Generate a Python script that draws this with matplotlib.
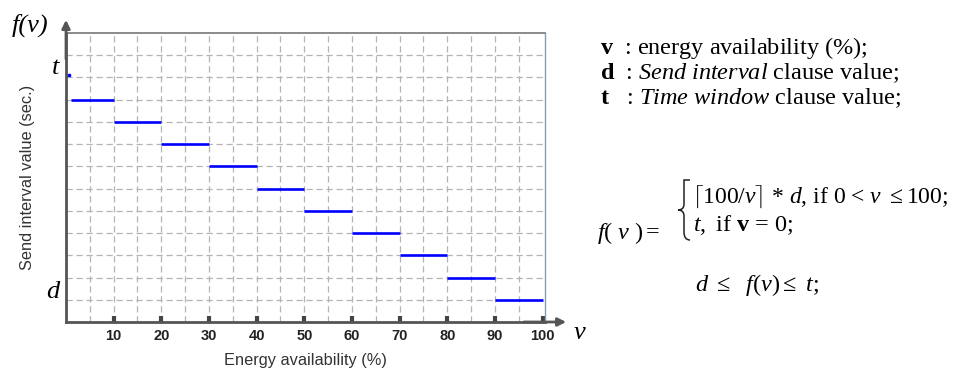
import matplotlib
matplotlib.use("Agg")
import matplotlib.pyplot as plt
from matplotlib.path import Path
from matplotlib.patches import PathPatch

# step function data (grid units on the y axis)
seg_start = [1, 10, 20, 30, 40, 50, 60, 70, 80, 90]
seg_end = [10, 20, 30, 40, 50, 60, 70, 80, 90, 100]
seg_level = [10, 9, 8, 7, 6, 5, 4, 3, 2, 1]
t_point = (0.6, 11.1)
x_ticks = [10, 20, 30, 40, 50, 60, 70, 80, 90, 100]

plt.rcParams["mathtext.fontset"] = "custom"
plt.rcParams["mathtext.rm"] = "Liberation Serif"
plt.rcParams["mathtext.it"] = "Liberation Serif:italic"
plt.rcParams["mathtext.bf"] = "Liberation Serif:bold"

W, H = 967, 370
fig = plt.figure(figsize=(W / 100, H / 100), dpi=100)
ax = fig.add_axes([66 / W, 1 - 322 / H, 479 / W, 289 / H])
ax.set_xlim(0, 100.5)
ax.set_ylim(0, 13)

# grid
for gx in range(5, 100, 5):
    ax.axvline(gx, color="#b4b4b4", lw=0.9, ls=(0, (5, 3)), zorder=1)
for gy in range(1, 13):
    ax.axhline(gy, color="#b4b4b4", lw=0.9, ls=(0, (5, 3)), zorder=1)

# steps
ax.hlines(seg_level, seg_start, seg_end, color="#0000ff", lw=1.9, zorder=3)
ax.plot([t_point[0]], [t_point[1]], "s", color="#0000ff", ms=2, zorder=3)

for side in ["left", "bottom"]:
    ax.spines[side].set_color("#555555")
    ax.spines[side].set_linewidth(2)
ax.spines["top"].set_color("#777777")
ax.spines["top"].set_linewidth(1.2)
ax.spines["right"].set_color("#8a9ab0")
ax.spines["right"].set_linewidth(1)

ax.set_xticks(x_ticks)
ax.set_xticklabels([str(v) for v in x_ticks], fontsize=10.5, fontweight="bold",
                   family="Liberation Sans", color="#222222")
ax.set_yticks([])
ax.tick_params(axis="x", direction="in", length=4, width=3, color="#444444", pad=5)

ax.set_xlabel("Energy availability (%)", fontsize=11.8, family="Liberation Sans",
              color="#333333", labelpad=7)
ax.set_ylabel("Send interval value (sec.)", fontsize=11.8, family="Liberation Sans",
              color="#333333", labelpad=22)

# axis arrows
ax.annotate("", xy=(0, 1.055), xytext=(0, 0.9), xycoords="axes fraction",
            arrowprops=dict(arrowstyle="-|>", color="#555555", lw=2, mutation_scale=12),
            annotation_clip=False)
ax.annotate("", xy=(1.05, 0), xytext=(0.95, 0), xycoords="axes fraction",
            arrowprops=dict(arrowstyle="-|>", color="#555555", lw=2, mutation_scale=12),
            annotation_clip=False)

serif = "Liberation Serif"
fig.text(30 / W, 1 - 25 / H, "f(v)", fontsize=19, family=serif, style="italic",
         ha="center", va="center")
fig.text(56 / W, 1 - 68 / H, "t", fontsize=19, family=serif, style="italic",
         ha="center", va="center")
fig.text(53 / W, 1 - 292 / H, "d", fontsize=19, family=serif, style="italic",
         ha="center", va="center")
fig.text(580 / W, 1 - 333 / H, "v", fontsize=19, family=serif, style="italic",
         ha="center", va="center")

# legend text on the right
fs = 17.5
fig.text(600 / W, 1 - 48 / H, r"$\mathbf{v}$  : energy availability (%);",
         fontsize=fs, family=serif, va="center")
fig.text(600 / W, 1 - 73 / H, r"$\mathbf{d}$  : $\mathit{Send\ interval}$ clause value;",
         fontsize=fs, family=serif, va="center")
fig.text(600 / W, 1 - 98 / H, r"$\mathbf{t}$   : $\mathit{Time\ window}$ clause value;",
         fontsize=fs, family=serif, va="center")

fig.text(597 / W, 1 - 233 / H, r"$\mathit{f(\ v\ ) =}$", fontsize=fs, family=serif,
         va="center")


def brace(x0, x1, y_top, y_bot):
    # left curly brace in figure pixels, tip at x0
    ym = (y_top + y_bot) / 2
    xm = (x0 + x1) / 2
    pts = [(x1, y_top), (xm, y_top), (xm, y_top), (xm, y_top + 8),
           (xm, ym - 6), (xm, ym - 6), (xm, ym - 6),
           (xm, ym), (x0, ym), (x0, ym),
           (xm, ym), (xm, ym + 6), (xm, ym + 6),
           (xm, y_bot - 8), (xm, y_bot), (x1, y_bot)]
    codes = [Path.MOVETO, Path.CURVE3, Path.CURVE3, Path.LINETO,
             Path.LINETO, Path.LINETO, Path.LINETO,
             Path.CURVE3, Path.CURVE3, Path.LINETO,
             Path.CURVE3, Path.CURVE3, Path.LINETO,
             Path.LINETO, Path.CURVE3, Path.CURVE3]
    pts = [(x / W, 1 - y / H) for x, y in pts]
    patch = PathPatch(Path(pts, codes), transform=fig.transFigure,
                      fill=False, lw=1.1, color="#222222")
    fig.add_artist(patch)


brace(678, 690, 180, 240)

fig.text(692 / W, 1 - 197 / H,
         r"$\lceil\mathit{100/v}\rceil$ * $\mathit{d}$, if $\mathit{0}$ < $\mathit{v}$ $\leq$100;",
         fontsize=17, family=serif, va="center")
fig.text(693 / W, 1 - 225 / H, r"$\mathit{t,}$ if $\mathbf{v}$ = $\mathit{0;}$",
         fontsize=fs, family=serif, va="center")
fig.text(695 / W, 1 - 285 / H, r"$\mathit{d}$ $\leq$  $\mathit{f(v)}$$\leq$ $\mathit{t;}$",
         fontsize=fs, family=serif, va="center")

fig.savefig("out.png", dpi=100)
